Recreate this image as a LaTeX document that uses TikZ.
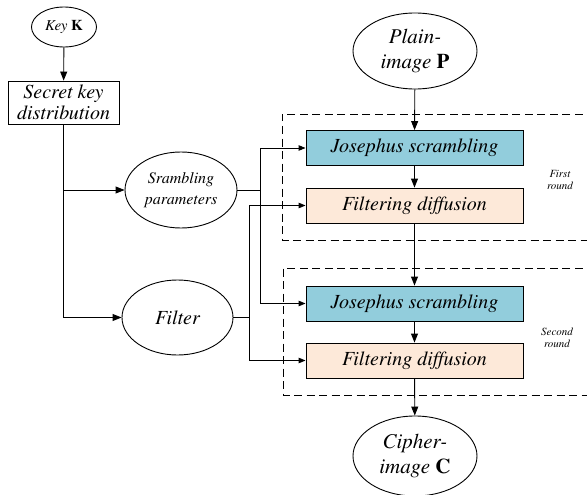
\documentclass[tikz,border=0pt]{standalone}
\usepackage[T1]{fontenc}
\renewcommand{\rmdefault}{ptm}
\usetikzlibrary{arrows.meta,shapes.geometric}
\definecolor{jcol}{HTML}{92CDDC}
\definecolor{fcol}{HTML}{FDE9D9}
\begin{document}
\begin{tikzpicture}[x=1pt,y=-1pt,
  line width=0.9pt,
  ell/.style={draw,ellipse,inner sep=0pt,align=center,font=\itshape},
  box/.style={draw,rectangle,inner sep=0pt,align=center,font=\itshape\fontsize{20}{22}\selectfont,minimum width=217pt,minimum height=35pt},
  arr/.style={-{Triangle[length=9pt,width=7pt]}},
  sarr/.style={-{Triangle[length=7pt,width=5.5pt]}},
  rnd/.style={dash pattern=on 8pt off 4.5pt,line width=0.9pt},
  lbl/.style={align=center,font=\itshape\fontsize{11}{12}\selectfont}]
\useasboundingbox (0,0) rectangle (587,495);
\node[ell,minimum width=65pt,minimum height=40pt,font=\itshape\fontsize{15}{17}\selectfont] (key) at (64,27) {Key \textbf{\upshape K}};
\node[draw,rectangle,inner sep=0pt,align=center,minimum width=111pt,minimum height=43pt,font=\itshape\fontsize{20}{21}\selectfont] (skd) at (63.5,102.5) {Secret key\\distribution};
\node[ell,minimum width=112pt,minimum height=76pt,font=\itshape\fontsize{16}{21}\selectfont] (scr) at (181,190) {Srambling\\parameters};
\node[ell,minimum width=111pt,minimum height=75pt,font=\itshape\fontsize{20}{22}\selectfont] (filt) at (177.5,317.5) {Filter};
\node[ell,minimum width=124pt,minimum height=76pt,font=\itshape\fontsize{21}{25}\selectfont] (plain) at (415,51) {Plain-\\image \textbf{\upshape P}};
\node[box,fill=jcol] (j1) at (414.5,148) {Josephus scrambling};
\node[box,fill=fcol] (f1) at (414.5,205.5) {Filtering diffusion};
\node[box,fill=jcol] (j2) at (414.5,303.5) {Josephus scrambling};
\node[box,fill=fcol] (f2) at (414.5,360.5) {Filtering diffusion};
\node[ell,minimum width=124pt,minimum height=80pt,font=\itshape\fontsize{21}{25}\selectfont] (cip) at (415,456) {Cipher-\\image \textbf{\upshape C}};
\node[lbl] (r1) at (560,180) {First\\round};
\node[lbl] (r2) at (557,338) {Second\\round};
\draw[rnd] (595,114) -| (282,240) -- (595,240);
\draw[rnd] (595,268) -| (283,395) -- (595,395);
\draw[arr] (key) -- (skd);
\draw[arr] (skd.south) |- (filt.west);
\draw[arr] (skd.south |- scr.west) -- (scr.west);
\coordinate (sb) at (260,190);
\coordinate (fb) at (249,317.5);
\draw (scr.east) -- (sb);
\draw[sarr] (sb) |- (j1.west);
\draw[sarr] (sb) |- (j2.west);
\draw (filt.east) -- (fb);
\draw[sarr] (fb) |- (f1.west);
\draw[sarr] (fb) |- (f2.west);
\draw[arr] (plain) -- (j1);
\draw[arr] (j1) -- (f1);
\draw[arr] (f1) -- (j2);
\draw[arr] (j2) -- (f2);
\draw[arr] (f2) -- (cip);
\end{tikzpicture}
\end{document}
